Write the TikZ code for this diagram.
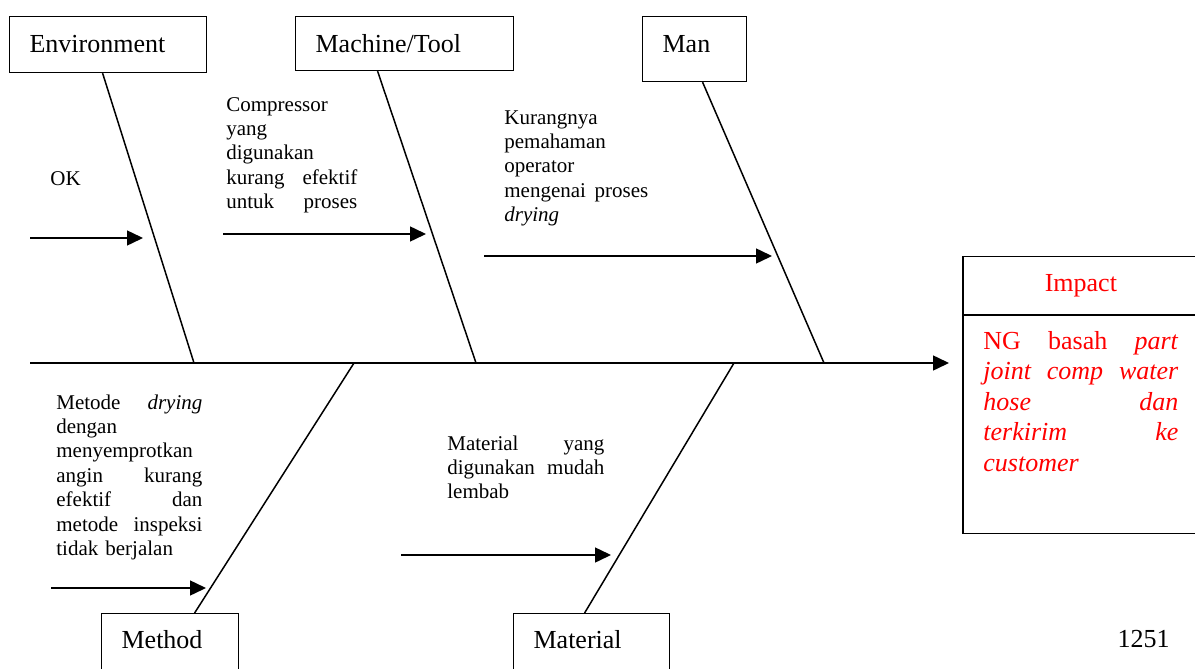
\documentclass[tikz,border=0pt]{standalone}
\usepackage{fontspec}
\setmainfont{Liberation Serif}
\usetikzlibrary{arrows.meta}
\tikzset{
	bone/.style={line width=0.75pt},
	causearrow/.style={line width=0.75pt,-{Triangle[length=8pt,width=7.5pt]}},
	catbox/.style={draw,line width=0.6pt,anchor=north west,inner xsep=10pt,inner ysep=0pt,
		align=left,text height=18pt,font=\fontsize{13}{15}\selectfont},
	causetext/.style={anchor=base west,inner sep=0pt,align=left,font=\fontsize{10.5}{12.2}\selectfont},
	impactbox/.style={text=red,inner xsep=10pt,inner ysep=0pt,text width=97.5pt,
		align=left,font=\fontsize{13}{15.2}\selectfont},
	boxline/.style={line width=0.6pt}
}

\begin{document}
\begin{tikzpicture}[x=0.5pt,y=-0.5pt]
	\useasboundingbox (0,0) rectangle (1195,669);

	% categories
	\node[catbox,text width=78.5pt,text depth=10pt] (env) at (9,16) {Environment};
	\node[catbox,text width=89pt,text depth=9pt] (mach) at (295,16) {Machine/Tool};
	\node[catbox,text width=32pt,text depth=14.5pt] (man) at (642,16) {Man};
	\node[catbox,text width=48.5pt,text height=17.5pt,text depth=14pt] (meth) at (101,613) {Method};
	\node[catbox,text width=58pt,text height=17.5pt,text depth=14pt] (matl) at (513,613) {Material};

	% effect
	\node[impactbox,anchor=north west,text height=17pt,text depth=92pt] (effect) at (963,315)
		{NG\hspace{\fill}basah\hspace{\fill}\textit{part}\\
		\textit{joint\hspace{\fill}comp\hspace{\fill}water}\\
		\textit{hose\hspace{\fill}dan}\\
		\textit{terkirim\hspace{\fill}ke}\\
		\textit{customer}};
	\node[impactbox,anchor=south west,align=center,text height=17.5pt,text depth=11.5pt] (impact) at (effect.north west) {Impact};
	\draw[boxline] (impact.north east) -- (impact.north west) -- (effect.south west) -- (effect.south east);
	\draw[boxline] (impact.south west) -- (impact.south east);

	% spine
	\coordinate (s0) at (30,363);
	\coordinate (tip) at (949,363);
	\coordinate (j1) at (194,363);
	\coordinate (j2) at (476,363);
	\coordinate (j3) at (824,363);
	\coordinate (j4) at (354,363);
	\coordinate (j5) at (734,363);
	\draw[causearrow] (s0) -- (tip);

	% bones
	\draw[bone] ([xshift=-2.75pt]env.south) -- (j1);
	\draw[bone] ([xshift=-13.5pt]mach.south) -- (j2);
	\draw[bone] ([xshift=4pt]man.south) -- (j3);
	\draw[bone] (j4) -- ([xshift=12.25pt]meth.north);
	\draw[bone] (j5) -- ([xshift=-3.5pt]matl.north);

	% causes
	\node[causetext] (c1) at (50,185) {OK};
	\node[causetext,text width=65.5pt] (c2) at (226,111)
		{Compressor\\yang\\digunakan\\kurang\hspace{\fill}efektif\\untuk\hspace{\fill}proses};
	\node[causetext,text width=72pt] (c3) at (504,124)
		{Kurangnya\\pemahaman\\operator\\mengenai\hspace{\fill}proses\\\textit{drying}};
	\node[causetext,text width=73pt] (c4) at (56,409)
		{Metode\hspace{\fill}\textit{drying}\\dengan\\menyemprotkan\\angin\hspace{\fill}kurang\\efektif\hspace{\fill}dan\\metode\hspace{\fill}inspeksi\\tidak berjalan};
	\node[causetext,text width=78.5pt] (c5) at (447,450)
		{Material\hspace{\fill}yang\\digunakan\hspace{\fill}mudah\\lembab};

	\coordinate (a1) at (30,238);  \coordinate (b1) at (143,238);
	\coordinate (a2) at (223,234); \coordinate (b2) at (426,234);
	\coordinate (a3) at (484,256); \coordinate (b3) at (772,256);
	\coordinate (a4) at (51,588);  \coordinate (b4) at (206,588);
	\coordinate (a5) at (401,555); \coordinate (b5) at (611,555);
	\draw[causearrow] (a1) -- (b1);
	\draw[causearrow] (a2) -- (b2);
	\draw[causearrow] (a3) -- (b3);
	\draw[causearrow] (a4) -- (b4);
	\draw[causearrow] (a5) -- (b5);

	\node[anchor=base east,inner sep=0pt,font=\fontsize{13}{15}\selectfont] (pg) at (1170,647) {1251};
\end{tikzpicture}
\end{document}
